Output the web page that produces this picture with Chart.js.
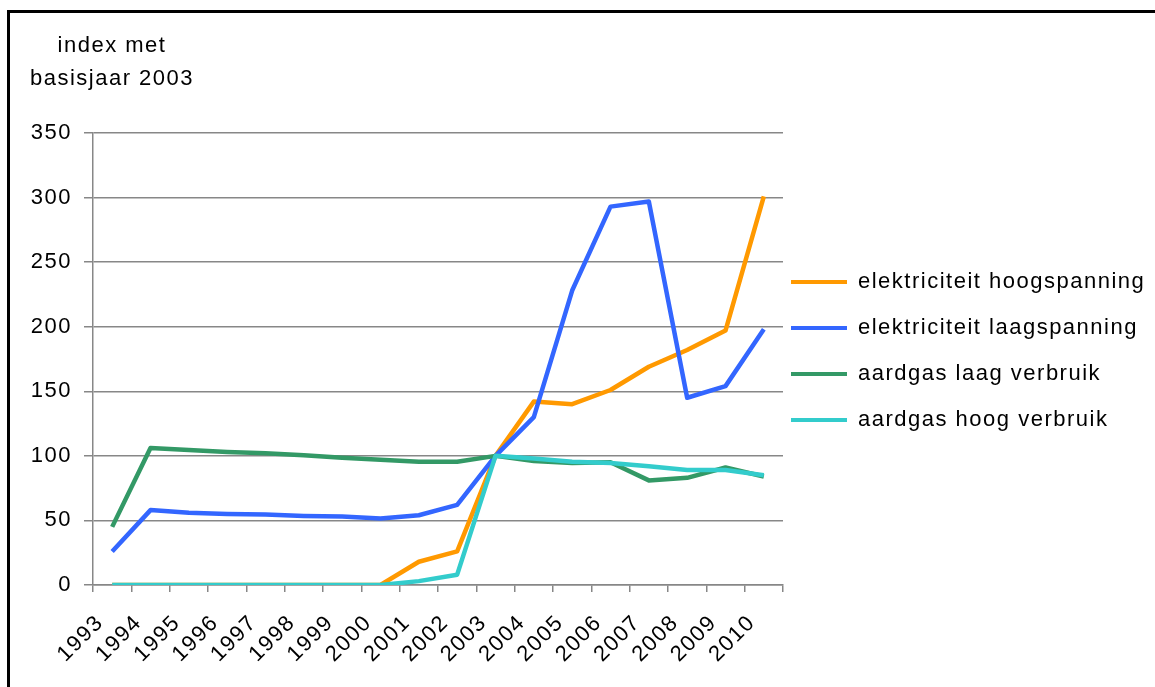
<!DOCTYPE html>
<html>
<head>
<meta charset="utf-8">
<script src="https://cdn.jsdelivr.net/npm/chart.js@4/dist/chart.umd.min.js"></script>
<style>
  html, body { margin: 0; padding: 0; background: #fff; }
  #wrap { position: relative; width: 1155px; height: 687px; overflow: hidden; background: #fff; }
  #frame { position: absolute; left: 7px; top: 10px; width: 1300px; height: 900px;
           border-left: 3px solid #000; border-top: 3px solid #000; pointer-events: none; }
  canvas { position: absolute; left: 0; top: 0; }
</style>
</head>
<body>
<div id="wrap">
  <div id="frame"></div>
  <canvas id="chart" width="1155" height="687"></canvas>
</div>
<script>
// Prijsindex energie, basisjaar 2003 = 100
const years = ['1993', '1994', '1995', '1996', '1997', '1998', '1999', '2000', '2001',
               '2002', '2003', '2004', '2005', '2006', '2007', '2008', '2009', '2010'];

const elecHoog = [0, 0, 0, 0, 0, 0, 0, 0, 18, 26, 100, 142, 140, 151, 169, 182, 197, 301];
const elecLaag = [26, 58, 56, 55, 54.5, 53.5, 53, 51.5, 54, 62, 100, 130, 228, 293, 297, 145, 154, 198];
const gasLaag  = [45, 106, 104.5, 103, 102, 100.5, 98.5, 97, 95.5, 95.5, 100, 96, 94.5, 95, 81, 83, 91, 84];
const gasHoog  = [0, 0, 0, 0, 0, 0, 0, 0, 3, 8, 100, 98, 95.5, 94.5, 92, 89, 89, 85];

const seriesNames = ['elektriciteit hoogspanning', 'elektriciteit laagspanning',
                     'aardgas laag verbruik', 'aardgas hoog verbruik'];
const yMin = 0, yMax = 350, yStep = 50;
const axisTitle = ['index met', 'basisjaar 2003'];

const FONT = '"Liberation Sans", Arial, Helvetica, sans-serif';
const GRID = '#878787';
const SPACING = '1.5px';

Chart.defaults.font.family = FONT;
Chart.defaults.font.size = 22;
Chart.defaults.color = '#000';

// wide GDI-style lettering for every text the canvas draws
const letterSpacingPlugin = {
  id: 'letterSpacing',
  beforeUpdate(chart) { chart.ctx.letterSpacing = SPACING; },
  beforeDraw(chart) { chart.ctx.letterSpacing = SPACING; }
};

// two-line axis caption above the value axis
const captionPlugin = {
  id: 'caption',
  afterDraw(chart) {
    const ctx = chart.ctx;
    ctx.save();
    ctx.font = '22px ' + FONT;
    ctx.fillStyle = '#000';
    ctx.textAlign = 'center';
    ctx.textBaseline = 'alphabetic';
    ctx.fillText(axisTitle[0], 112, 52);
    ctx.fillText(axisTitle[1], 112, 85);
    ctx.restore();
  }
};

// place the legend block beside the plot, vertically near its middle
const legendPlacePlugin = {
  id: 'legendPlace',
  afterLayout(chart) {
    const L = chart.legend;
    if (!L || !L.columnSizes || !L.columnSizes.length) return;
    const pad = L.options.labels.padding;
    const colH = L.columnSizes[0].height;
    const cur = ((L.top + pad) + (L.bottom - colH)) / 2;
    const dy = 271 - cur;
    L.top += dy; L.bottom += dy;
    L.left -= 16;
  }
};

const colors = ['#FF9900', '#3366FF', '#339966', '#33CCCC'];
const values = [elecHoog, elecLaag, gasLaag, gasHoog];

const datasets = values.map((v, i) => ({
  label: seriesNames[i],
  data: v,
  borderColor: colors[i],
  backgroundColor: colors[i],
  borderWidth: 4.5,
  pointRadius: 0,
  pointHoverRadius: 0,
  tension: 0,
  borderJoinStyle: 'round',
  order: 3 - i
}));

new Chart(document.getElementById('chart'), {
  type: 'line',
  data: { labels: years, datasets },
  options: {
    responsive: false,
    animation: false,
    events: [],
    layout: { padding: { top: 133, left: 0, right: 0, bottom: 0 } },
    scales: {
      x: {
        offset: true,
        ticks: { autoSkip: false, minRotation: 45, maxRotation: 45, padding: 18, labelOffset: -12, color: '#000' },
        grid: {
          offset: true,
          drawOnChartArea: true,
          color: (c) => c.index === years.length ? GRID : 'rgba(0,0,0,0)',
          tickColor: GRID,
          tickLength: 7,
          lineWidth: 1.5
        },
        border: { color: GRID, width: 1.5 },
        afterFit(s) { s.height = 102; }
      },
      y: {
        min: yMin,
        max: yMax,
        ticks: { stepSize: yStep, padding: 12, color: '#000' },
        grid: { color: GRID, lineWidth: 1.5, tickLength: 9, drawTicks: true },
        border: { color: GRID, width: 1.5 },
        afterFit(s) { s.width = 93; }
      }
    },
    plugins: {
      tooltip: { enabled: false },
      legend: {
        position: 'right',
        maxWidth: 372,
        labels: {
          boxWidth: 56,
          boxHeight: 4,
          padding: 24,
          color: '#000',
          font: { size: 22 },
          sort: (a, b) => a.datasetIndex - b.datasetIndex,
          generateLabels(chart) {
            const items = Chart.defaults.plugins.legend.labels.generateLabels(chart);
            items.forEach(it => { it.fillStyle = it.strokeStyle; it.lineWidth = 0; });
            return items;
          }
        }
      }
    }
  },
  plugins: [letterSpacingPlugin, legendPlacePlugin, captionPlugin]
});
</script>
</body>
</html>
